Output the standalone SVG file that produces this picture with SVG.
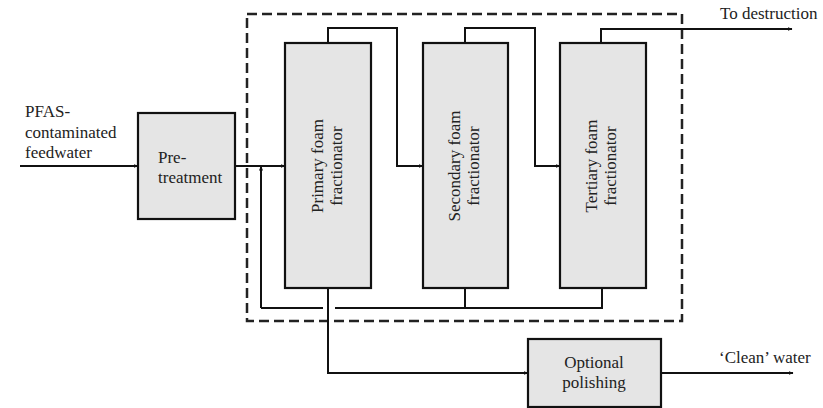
<svg xmlns="http://www.w3.org/2000/svg" width="823" height="408" viewBox="0 0 823 408">
<defs>
<marker id="ah" viewBox="0 0 10 10" refX="9" refY="5" markerWidth="5" markerHeight="5" orient="auto" markerUnits="userSpaceOnUse">
<path d="M0,1 L10,5 L0,9 Z" fill="#111"/>
</marker>
<style>
.box{fill:#e5e5e5;stroke:#111;stroke-width:2.2}
.ln{fill:none;stroke:#111;stroke-width:2}
.ar{fill:none;stroke:#111;stroke-width:2;marker-end:url(#ah)}
.dash{fill:none;stroke:#222;stroke-width:2.5;stroke-dasharray:10 5}
text{font-size:17px;fill:#222}
.c{text-anchor:middle}
</style>
</defs>
<rect width="823" height="408" fill="#fff"/>
<g id="system-boundary">
<rect class="dash" x="247" y="14" width="435" height="307"/>
</g>
<g id="connectors">
<path class="ar" d="M20,166 H138"/>
<path class="ar" d="M235,166 H285"/>
<path class="ar" d="M328,43 V28 H397 V166 H423"/>
<path class="ar" d="M465,43 V28 H535 V166 H560"/>
<path class="ar" d="M601,43 V29 H792"/>
<path class="ln" d="M323,308 H261"/>
<path class="ar" d="M261,308 V166"/>
<path class="ln" d="M335,308 H602 V288"/>
<path class="ln" d="M465,288 V308"/>
<path class="ar" d="M328,288 V373 H528"/>
<path class="ar" d="M661,373 H793"/>
</g>
<g font-family="'Liberation Serif', 'DejaVu Serif', serif">
<g id="feed-label">
<text x="25" y="117">PFAS-</text>
<text x="25" y="138">contaminated</text>
<text x="25" y="158">feedwater</text>
</g>
<g id="pretreatment">
<rect class="box" x="138" y="113" width="97" height="106"/>
<text x="158" y="163">Pre-</text>
<text x="158" y="183">treatment</text>
</g>
<g id="primary">
<rect class="box" x="285" y="43" width="86" height="245"/>
<text class="c" transform="translate(323,166) rotate(-90)">Primary foam</text>
<text class="c" transform="translate(342,166) rotate(-90)">fractionator</text>
</g>
<g id="secondary">
<rect class="box" x="423" y="43" width="85" height="245"/>
<text class="c" transform="translate(460,166) rotate(-90)">Secondary foam</text>
<text class="c" transform="translate(479,166) rotate(-90)">fractionator</text>
</g>
<g id="tertiary">
<rect class="box" x="560" y="43" width="86" height="245"/>
<text class="c" transform="translate(597,166) rotate(-90)">Tertiary foam</text>
<text class="c" transform="translate(616,166) rotate(-90)">fractionator</text>
</g>
<g id="polishing">
<rect class="box" x="528" y="339" width="133" height="68"/>
<text class="c" x="594" y="368">Optional</text>
<text class="c" x="594" y="388">polishing</text>
</g>
<g id="labels">
<text x="720" y="19">To destruction</text>
<text x="719" y="363">‘Clean’ water</text>
</g>
</g>
</svg>
